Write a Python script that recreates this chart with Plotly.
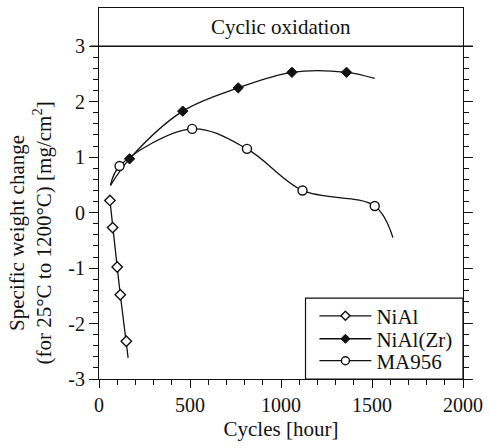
import numpy as np
import plotly.graph_objects as go

# ---- data ----
nial_x = [60, 75, 100, 117, 150]
nial_y = [0.22, -0.27, -0.98, -1.48, -2.32]
nial_curve_x = [60, 75, 100, 117, 150, 160]
nial_curve_y = [0.22, -0.27, -0.98, -1.48, -2.32, -2.62]

zr_x = [168, 460, 765, 1060, 1360]
zr_y = [0.97, 1.83, 2.25, 2.53, 2.53]
zr_curve_x = [63, 168, 460, 765, 1060, 1360, 1515]
zr_curve_y = [0.49, 0.97, 1.83, 2.25, 2.53, 2.53, 2.42]

ma_x = [113, 512, 813, 1118, 1515]
ma_y = [0.84, 1.51, 1.15, 0.40, 0.12]
ma_curve_x = [63, 113, 512, 813, 1118, 1515, 1615]
ma_curve_y = [0.49, 0.84, 1.51, 1.15, 0.40, 0.12, -0.45]

x_ticks = [0, 500, 1000, 1500, 2000]
x_ticktext = ["0", "500", "1000", "1500", "2000"]
y_ticks = [-3, -2, -1, 0, 1, 2, 3]
y_ticktext = ["-3", "-2", "-1", "0", "1", "2", "3"]

FONT = "Liberation Serif"
INK = "#111111"

fig = go.Figure()

# curves
fig.add_trace(go.Scatter(x=nial_curve_x, y=nial_curve_y, mode="lines",
                         line=dict(color=INK, width=1.3), showlegend=False, hoverinfo="skip"))
fig.add_trace(go.Scatter(x=zr_curve_x, y=zr_curve_y, mode="lines",
                         line=dict(color=INK, width=1.3, shape="spline", smoothing=1.0),
                         showlegend=False, hoverinfo="skip"))
fig.add_trace(go.Scatter(x=ma_curve_x, y=ma_curve_y, mode="lines",
                         line=dict(color=INK, width=1.3, shape="spline", smoothing=1.0),
                         showlegend=False, hoverinfo="skip"))

# markers
fig.add_trace(go.Scatter(x=nial_x, y=nial_y, mode="markers", showlegend=False,
                         marker=dict(symbol="diamond", size=8, color="white",
                                     line=dict(color=INK, width=1.4))))
fig.add_trace(go.Scatter(x=zr_x, y=zr_y, mode="markers", showlegend=False,
                         marker=dict(symbol="diamond", size=8, color=INK,
                                     line=dict(color=INK, width=1))))
fig.add_trace(go.Scatter(x=ma_x, y=ma_y, mode="markers", showlegend=False,
                         marker=dict(symbol="circle", size=9, color="white",
                                     line=dict(color=INK, width=1.4))))

# legend entries (one legend each so the spacing can follow the original)
fig.add_trace(go.Scatter(x=[None], y=[None], mode="lines+markers", name="NiAl", legend="legend",
                         line=dict(color=INK, width=1.3),
                         marker=dict(symbol="diamond", size=7, color="white",
                                     line=dict(color=INK, width=1.4))))
fig.add_trace(go.Scatter(x=[None], y=[None], mode="lines+markers", name="NiAl(Zr)", legend="legend2",
                         line=dict(color=INK, width=1.3),
                         marker=dict(symbol="diamond", size=7, color=INK,
                                     line=dict(color=INK, width=1))))
fig.add_trace(go.Scatter(x=[None], y=[None], mode="lines+markers", name="MA956", legend="legend3",
                         line=dict(color=INK, width=1.3),
                         marker=dict(symbol="circle", size=8, color="white",
                                     line=dict(color=INK, width=1.4))))

# plot area geometry (pixels)
L, R, T, B = 98.5, 466, 7, 379
W, H = R - L, B - T


def px(x):
    return (x - L) / W


def py(y):
    return (B - y) / H


leg_common = dict(bgcolor="rgba(0,0,0,0)", borderwidth=0, font=dict(family=FONT, size=21, color=INK),
                  xanchor="left", yanchor="middle", itemwidth=52,
                  xref="paper", yref="paper")
leg_x = px(316)

fig.update_layout(
    width=490, height=448,
    margin=dict(l=L, r=490 - R, t=T, b=448 - B, pad=0),
    paper_bgcolor="white", plot_bgcolor="white",
    font=dict(family=FONT, size=20, color=INK),
    legend=dict(x=leg_x, y=py(316), **leg_common),
    legend2=dict(x=leg_x, y=py(339), **leg_common),
    legend3=dict(x=leg_x, y=py(361), **leg_common),
    xaxis=dict(range=[0, 2000], tickmode="array", tickvals=x_ticks, ticktext=x_ticktext,
               ticks="outside", ticklen=8, tickwidth=1.2, tickcolor=INK,
               minor=dict(ticks="outside", ticklen=5, dtick=100, tick0=0, tickwidth=1, tickcolor=INK),
               showline=True, linecolor=INK, linewidth=1.2, mirror=True,
               showgrid=False, zeroline=False,
               tickfont=dict(family=FONT, size=20, color=INK),
               title=dict(text="Cycles [hour]", font=dict(family=FONT, size=21, color=INK), standoff=6)),
    yaxis=dict(range=[-3, 3.69], tickmode="array", tickvals=y_ticks, ticktext=y_ticktext,
               ticks="outside", ticklen=9, tickwidth=1.2, tickcolor=INK,
               minor=dict(ticks="outside", ticklen=5, tickmode="array",
                          tickvals=[round(v, 1) for v in np.arange(-3, 3.01, 0.2)],
                          tickwidth=1, tickcolor=INK),
               showline=True, linecolor=INK, linewidth=1.2, mirror="ticks",
               showgrid=False, zeroline=False,
               tickfont=dict(family=FONT, size=20, color=INK)),
    showlegend=True,
)

# title band line and legend frame
fig.add_shape(type="line", xref="paper", yref="y", x0=px(90), x1=px(476), y0=3, y1=3,
              line=dict(color=INK, width=1.5))
fig.add_shape(type="rect", xref="paper", yref="paper", x0=px(307), x1=1, y0=0, y1=py(298),
              line=dict(color=INK, width=1.2), fillcolor="white", layer="below")

fig.add_annotation(text="Cyclic oxidation", xref="paper", yref="y", x=0.5, y=3.345,
                   showarrow=False, font=dict(family=FONT, size=21, color=INK),
                   xanchor="center", yanchor="middle")

fig.add_annotation(text="Specific weight change<br>(for 25°C to 1200°C) [mg/cm<sup>2</sup>]",
                   xref="paper", yref="paper", x=px(29), y=py(233), textangle=-90,
                   showarrow=False, font=dict(family=FONT, size=21, color=INK),
                   xanchor="center", yanchor="middle", align="center")

fig.write_html("out.html")
